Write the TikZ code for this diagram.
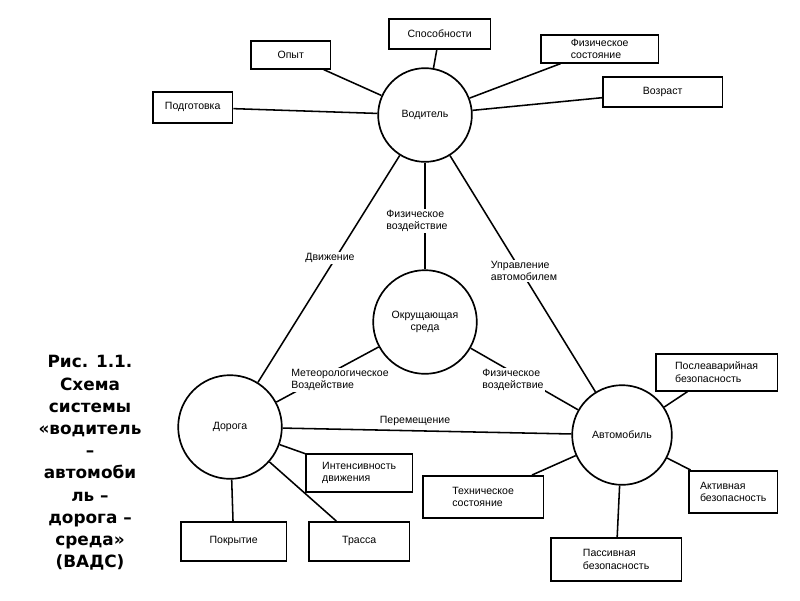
\documentclass[tikz,border=0pt]{standalone}
\usepackage{fontspec}
\setmainfont{Liberation Sans}
\newfontfamily\capfont{DejaVu Sans}
\newdimen\px \px=0.7087pt
\begin{document}
\begin{tikzpicture}[x=0.025cm,y=-0.025cm,
  circ/.style={draw,line width=1.2pt,circle,inner sep=0pt,font=\fontsize{7.5}{9}\selectfont,align=center},
  box/.style={draw,line width=1.2pt,rectangle,anchor=north west,inner sep=0pt},
  txt/.style={font=\fontsize{7.5}{9}\selectfont,align=left},
  lab/.style={font=\fontsize{7.5}{9}\selectfont,align=left,fill=white,inner sep=1pt},
  ln/.style={line width=1.1pt}]
\useasboundingbox (0,0) rectangle (800,600);
\node[circ,minimum size=94\px] (vod) at (425,115) {Водитель};
\node[circ,minimum size=104\px] (sr) at (425,322) {Окрущающая\\среда};
\node[circ,minimum size=104\px] (dor) at (230,427) {Дорога};
\node[circ,minimum size=100\px] (avt) at (622,435) {Автомобиль};
\node[box,minimum width=80\px,minimum height=28\px] (opyt) at (250,40) {};
\node[txt] (topyt) at (opyt.center) {Опыт};
\node[box,minimum width=102\px,minimum height=30\px] (spos) at (388,18) {};
\node[txt] (tspos) at (spos.center) {Способности};
\node[box,minimum width=118\px,minimum height=28\px] (fiz) at (540,34) {};
\node[txt] (tfiz) at (fiz.center) {Физическое\\состояние};
\node[box,minimum width=120\px,minimum height=30\px] (voz) at (602,76) {};
\node[txt] (tvoz) at (voz.center) {Возраст};
\node[box,minimum width=80\px,minimum height=31\px] (pod) at (152,91) {};
\node[txt] (tpod) at (pod.center) {Подготовка};
\node[box,minimum width=122\px,minimum height=37\px] (posl) at (655,353) {};
\node[txt] (tposl) at (posl.center) {Послеаварийная\\безопасность};
\node[box,minimum width=89\px,minimum height=42\px] (akt) at (688,470) {};
\node[txt] (takt) at (akt.center) {Активная\\безопасность};
\node[box,minimum width=121\px,minimum height=42\px] (teh) at (422,475) {};
\node[txt] (tteh) at (teh.center) {Техническое\\состояние};
\node[box,minimum width=131\px,minimum height=43\px] (pas) at (550,537) {};
\node[txt] (tpas) at (pas.center) {Пассивная\\безопасность};
\node[box,minimum width=107\px,minimum height=38\px] (int) at (305,453) {};
\node[txt] (tint) at (int.center) {Интенсивность\\движения};
\node[box,minimum width=106\px,minimum height=39\px] (pokr) at (180,521) {};
\node[txt] (tpokr) at (pokr.center) {Покрытие};
\node[box,minimum width=101\px,minimum height=39\px] (tr) at (308,521) {};
\node[txt] (ttr) at (tr.center) {Трасса};
% main links
\draw[ln] (vod) -- (dor);
\draw[ln] (vod) -- (avt);
\draw[ln] (dor) -- (avt);
\draw[ln] (vod) -- (sr);
\draw[ln] (sr) -- (dor);
\draw[ln] (sr) -- (avt);
% box links
\draw[ln] (vod) -- (opyt);
\draw[ln] (vod) -- (spos);
\draw[ln] (vod) -- (fiz);
\draw[ln] (vod) -- (voz);
\draw[ln] (vod) -- (pod);
\draw[ln] (avt) -- (posl);
\draw[ln] (avt) -- (akt);
\draw[ln] (avt) -- (teh);
\draw[ln] (avt) -- (pas);
\draw[ln] (dor) -- (int);
\draw[ln] (dor) -- (pokr);
\draw[ln] (dor) -- (tr);
% labels
\node[lab] (l1) at (330,258) {Движение};
\node[lab] (l2) at (417,221) {Физическое\\воздействие};
\node[lab] (l3) at (524,271) {Управление\\автомобилем};
\node[lab] (l4) at (340,380) {Метеорологическое\\Воздействие};
\node[lab] (l5) at (513,380) {Физическое\\воздействие};
\node[lab] (l6) at (415,421) {Перемещение};
\node[font=\capfont\bfseries\fontsize{12}{15.8}\selectfont,align=center] (cap) at (90,463)
 {Рис. 1.1.\\Схема\\системы\\«водитель\\–\\автомоби\\ль –\\дорога –\\среда»\\(ВАДС)};
\end{tikzpicture}
\end{document}
